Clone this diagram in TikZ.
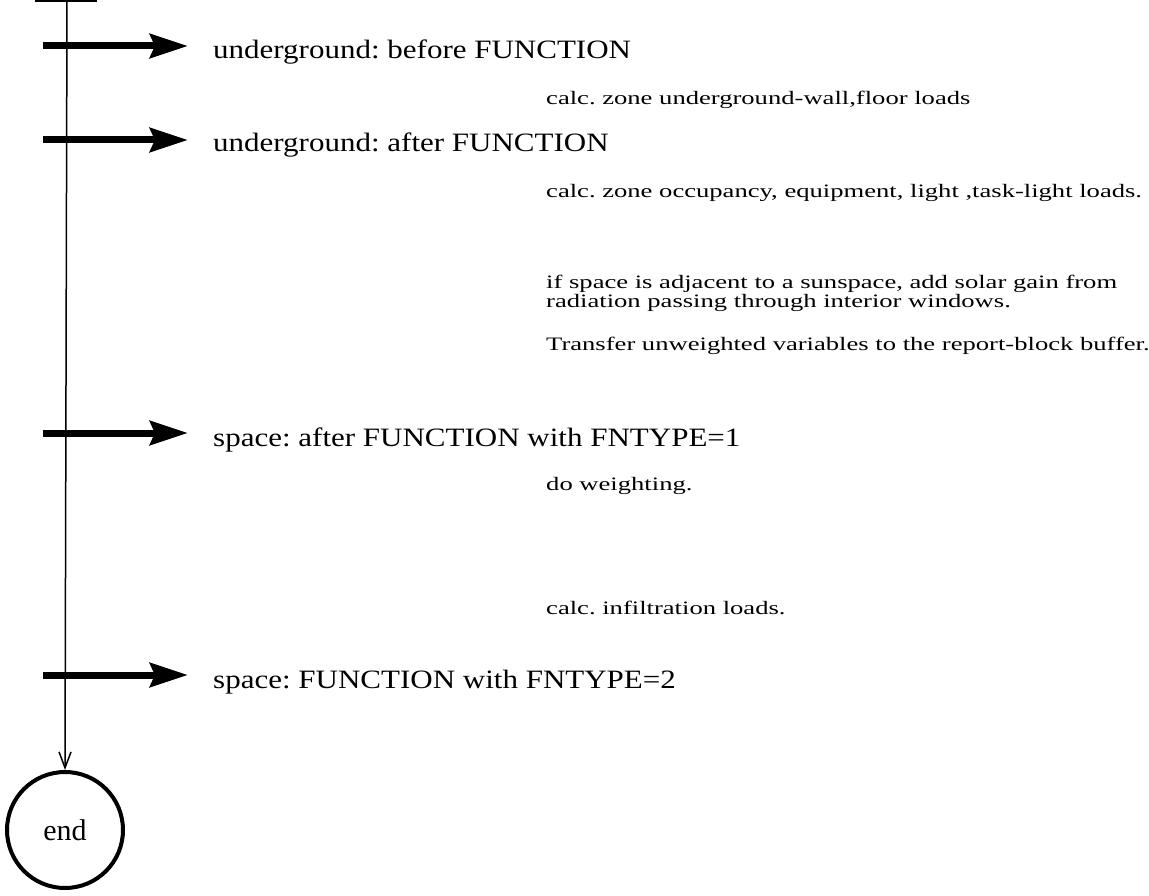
\documentclass[tikz,border=0pt]{standalone}
\usepackage{fontspec}
\setmainfont{Liberation Serif}
\newfontfamily\lblfont[FakeStretch=1.17]{Liberation Serif}
\newfontfamily\notefnt[FakeStretch=1.4]{Liberation Serif}
\usetikzlibrary{arrows.meta}

\begin{document}
\frenchspacing
\begin{tikzpicture}[x=1pt, y=-1pt, >=latex]
  \tikzstyle{lbl} = [anchor=base west, inner sep=0pt, font=\lblfont\fontsize{26.5}{30}\selectfont]
  \tikzstyle{note} = [anchor=base west, inner sep=0pt, align=left,
                      font=\notefnt\fontsize{19}{17}\selectfont]
  \tikzstyle{bigarrow} = [line width=7pt, -{Stealth[length=38pt,width=24pt,inset=5pt]}]
  \useasboundingbox (0,0) rectangle (1149,896);

  % main line and end
  \coordinate (topl) at (35,1);
  \coordinate (topr) at (97,1);
  \coordinate (top) at (67,0);
  \node[circle, draw, line width=4pt, minimum size=116pt, inner sep=0pt,
        font=\fontsize{30}{30}\selectfont] (fin) at (65,830) {end};
  \draw[line width=2pt] (topl) -- (topr);
  \draw[line width=1.5pt, -{Straight Barb[length=16pt,width=12pt]}] (top) -- (fin.north);

  % calls
  \node[lbl] (ugb) at (213,59)  {underground: before FUNCTION};
  \node[lbl] (uga) at (213,152) {underground: after FUNCTION};
  \node[lbl] (spa) at (213,446) {space: after FUNCTION with FNTYPE=1};
  \node[lbl] (spf) at (213,688) {space: FUNCTION with FNTYPE=2};

  \coordinate (s1) at (43,46);
  \coordinate (s2) at (43,140);
  \coordinate (s3) at (43,433);
  \coordinate (s4) at (43,675);
  \draw[bigarrow, shorten >=25pt] (s1) -- (s1 -| ugb.west);
  \draw[bigarrow, shorten >=25pt] (s2) -- (s2 -| uga.west);
  \draw[bigarrow, shorten >=25pt] (s3) -- (s3 -| spa.west);
  \draw[bigarrow, shorten >=25pt] (s4) -- (s4 -| spf.west);

  % what is done in between
  \node[note] (n1) at (546,105) {calc. zone underground-wall,floor loads};
  \node[note] (n2) at (546,198) {calc. zone occupancy, equipment, light ,task-light loads.};
  \node[note] (n3) at (546,307) {if space is adjacent to a sunspace, add solar gain from\\
                                 radiation passing through interior windows.};
  \node[note] (n4) at (546,350) {Transfer unweighted variables to the report-block buffer.};
  \node[note] (n5) at (546,490) {do weighting.};
  \node[note] (n6) at (546,614) {calc. infiltration loads.};
\end{tikzpicture}
\end{document}
